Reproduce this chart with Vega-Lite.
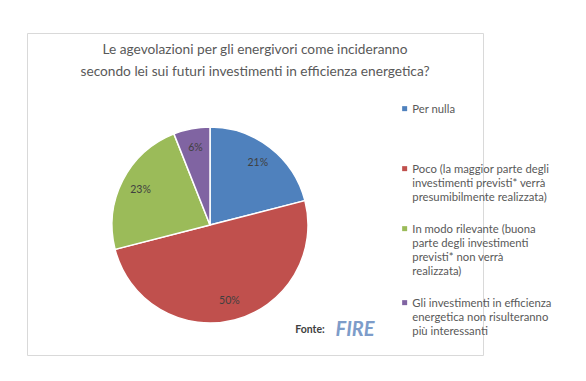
{
  "$schema": "https://vega.github.io/schema/vega-lite/v6.json",
  "width": 456,
  "height": 322,
  "autosize": {"type": "none"},
  "padding": {"left": 27, "top": 33, "right": 103, "bottom": 26},
  "background": "white",
  "view": {"stroke": "#d9d9d9", "strokeWidth": 1, "fill": "white"},
  "config": {
    "view": {"stroke": "#d9d9d9", "strokeWidth": 1},
    "font": "Lato",
    "style": {"guide-label": {"lineHeight": 14, "dy": -5}}
  },
  "title": {
    "text": ["Le agevolazioni per gli energivori come incideranno", "secondo lei sui futuri investimenti in efficienza energetica?"],
    "fontSize": 13.7,
    "fontWeight": "normal",
    "color": "#595959",
    "anchor": "middle",
    "lineHeight": 22,
    "offset": -46
  },
  "data": {
    "values": [
      {"cat": "Per nulla", "v": 21, "ord": 1, "lab": "21%"},
      {"cat": "Poco (la maggior parte degli|investimenti previsti* verrà|presumibilmente realizzata)", "v": 50, "ord": 2, "lab": "50%"},
      {"cat": "In modo rilevante (buona|parte degli investimenti|previsti* non verrà|realizzata)", "v": 23, "ord": 3, "lab": "23%"},
      {"cat": "Gli investimenti in efficienza|energetica non risulteranno|più interessanti", "v": 6, "ord": 4, "lab": "6%"}
    ]
  },
  "layer": [
    {
      "mark": {"type": "arc", "x": 183, "y": 192, "outerRadius": 98, "stroke": "white", "strokeWidth": 1.5},
      "encoding": {
        "theta": {"field": "v", "type": "quantitative", "stack": true},
        "order": {"field": "ord", "type": "quantitative"},
        "color": {
          "field": "cat",
          "type": "nominal",
          "sort": null,
          "scale": {"range": ["#4F81BD", "#C0504D", "#9BBB59", "#8064A2"]},
          "legend": {
            "title": null,
            "orient": "none",
            "legendX": 372,
            "legendY": 70,
            "symbolType": "square",
            "symbolSize": 25,
            "symbolStrokeWidth": 0,
            "labelFont": "Lato",
            "labelFontSize": 11.3,
            "labelColor": "#595959",
            "labelLimit": 200,
            "labelOffset": 2,
            "labelBaseline": "top",
            "labelExpr": "datum.label == 'Per nulla' ? ['Per nulla', '', ''] : split(datum.label, '|')",
            "rowPadding": 20
          }
        }
      }
    },
    {
      "mark": {"type": "text", "x": 183, "y": 192, "radius": 78, "fontSize": 10.5, "color": "#404040", "font": "Lato"},
      "encoding": {
        "theta": {"field": "v", "type": "quantitative", "stack": true},
        "order": {"field": "ord", "type": "quantitative"},
        "text": {"field": "lab", "type": "nominal"}
      }
    },
    {
      "data": {"values": [{"t": "Fonte:"}]},
      "mark": {"type": "text", "x": 283, "y": 297, "fontSize": 10.5, "fontWeight": "bold", "color": "#404040", "font": "Lato"},
      "encoding": {"text": {"field": "t", "type": "nominal"}}
    },
    {
      "data": {"values": [{"t": "FIRE"}]},
      "mark": {"type": "text", "x": 328, "y": 297, "fontSize": 20, "fontWeight": "bold", "fontStyle": "italic", "color": "#7d9cc9", "font": "Lato"},
      "encoding": {"text": {"field": "t", "type": "nominal"}}
    }
  ]
}
